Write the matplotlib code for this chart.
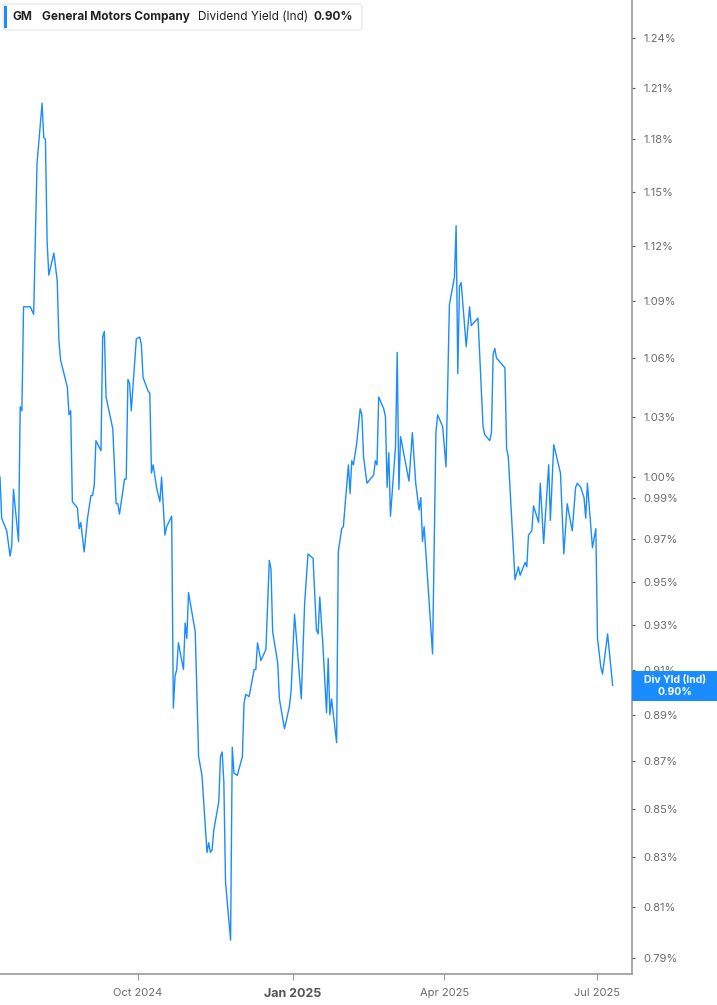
import pandas as pd
import matplotlib
matplotlib.use('Agg')
import matplotlib.pyplot as plt
import matplotlib.dates as mdates
from matplotlib.ticker import FixedLocator, FuncFormatter, NullLocator
from matplotlib.patches import FancyBboxPatch, Rectangle

# GM dividend yield (indicated), in percent
start_date = '2024-07-11'
day_offsets = [
    0, 1, 4, 6, 7, 8, 11, 12, 13, 14, 18, 20, 22, 25, 26, 27, 28, 29, 32, 34,
    35, 36, 40, 41, 42, 43, 46, 47, 48, 50, 52, 54, 55, 56, 57, 60, 61, 62, 63, 67,
    69, 70, 71, 74, 75, 76, 77, 78, 81, 83, 84, 85, 88, 89, 90, 91, 93, 95, 96, 98,
    99, 102, 103, 104, 105, 106, 109, 110, 111, 112, 116, 118, 120, 123, 124, 125, 126, 127, 130, 131,
    132, 133, 134, 137, 138, 139, 141, 144, 145, 146, 148, 151, 152, 153, 155, 158, 160, 161, 162, 165,
    166, 169, 170, 172, 173, 175, 179, 181, 183, 186, 188, 189, 190, 192, 194, 195, 196, 197, 200, 201,
    203, 204, 207, 208, 209, 210, 212, 214, 215, 216, 218, 222, 223, 224, 225, 228, 229, 230, 231, 232,
    235, 236, 237, 238, 243, 245, 247, 249, 250, 251, 252, 257, 259, 260, 263, 265, 267, 270, 271, 272,
    273, 274, 277, 279, 280, 284, 287, 288, 291, 292, 293, 294, 295, 298, 300, 301, 302, 306, 307, 308,
    309, 312, 313, 314, 316, 317, 320, 321, 323, 326, 327, 329, 333, 335, 337, 340, 342, 343, 345, 347,
    348, 349, 352, 354, 355, 357, 358, 361, 364,
]
yields = [
    1.000, 0.980, 0.974, 0.962, 0.967, 0.994, 0.969, 1.035, 1.033, 1.087, 1.087, 1.083, 1.166, 1.201, 1.181, 1.180, 1.122, 1.104, 1.116, 1.101,
    1.069, 1.059, 1.045, 1.031, 1.033, 0.988, 0.985, 0.975, 0.978, 0.964, 0.980, 0.991, 0.991, 0.996, 1.018, 1.013, 1.071, 1.074, 1.040, 1.024,
    0.987, 0.987, 0.982, 0.999, 0.999, 1.049, 1.047, 1.033, 1.070, 1.071, 1.067, 1.050, 1.043, 1.042, 1.002, 1.006, 0.995, 0.988, 1.000, 0.972,
    0.976, 0.981, 0.893, 0.907, 0.910, 0.922, 0.910, 0.931, 0.924, 0.945, 0.927, 0.872, 0.864, 0.832, 0.836, 0.832, 0.833, 0.841, 0.853, 0.872,
    0.874, 0.861, 0.820, 0.797, 0.876, 0.865, 0.864, 0.872, 0.895, 0.899, 0.898, 0.910, 0.910, 0.922, 0.914, 0.919, 0.960, 0.956, 0.927, 0.913,
    0.897, 0.884, 0.887, 0.894, 0.901, 0.935, 0.897, 0.940, 0.963, 0.961, 0.928, 0.926, 0.943, 0.919, 0.891, 0.915, 0.890, 0.897, 0.878, 0.964,
    0.975, 0.976, 1.006, 0.992, 1.008, 1.006, 1.017, 1.034, 1.031, 1.010, 0.997, 1.001, 1.008, 1.006, 1.040, 1.034, 1.030, 0.995, 1.012, 0.981,
    1.015, 1.063, 0.994, 1.020, 0.998, 1.022, 0.997, 0.984, 0.990, 0.969, 0.976, 0.917, 1.022, 1.031, 1.025, 1.005, 1.088, 1.103, 1.131, 1.052,
    1.098, 1.100, 1.066, 1.087, 1.077, 1.081, 1.025, 1.021, 1.018, 1.022, 1.062, 1.065, 1.060, 1.057, 1.055, 1.014, 1.010, 0.951, 0.954, 0.957,
    0.953, 0.959, 0.957, 0.972, 0.974, 0.986, 0.978, 0.997, 0.968, 1.006, 0.979, 1.016, 1.002, 0.963, 0.987, 0.974, 0.995, 0.997, 0.995, 0.990,
    0.980, 0.997, 0.966, 0.975, 0.924, 0.911, 0.908, 0.926, 0.903,
]
y_ticks = [0.79, 0.81, 0.83, 0.85, 0.87, 0.89, 0.91, 0.93, 0.95, 0.97, 0.99,
           1.00, 1.03, 1.06, 1.09, 1.12, 1.15, 1.18, 1.21, 1.24]
x_ticks = ['2024-10-01', '2025-01-01', '2025-04-01', '2025-07-01']
x_labels = ['Oct 2024', 'Jan 2025', 'Apr 2025', 'Jul 2025']
last_value = 0.90

plt.rcParams['font.family'] = ['Inter', 'DejaVu Sans']

blue = '#1a8cff'
grey_text = '#6b6b6b'
spine_col = '#9a9a9a'

dates = pd.to_datetime(start_date) + pd.to_timedelta(day_offsets, unit='D')

fig = plt.figure(figsize=(7.17, 10.05), dpi=100)
ax = fig.add_axes([0, 1 - 974 / 1005, 632 / 717, 974 / 1005])

ax.plot(dates, yields, color=blue, lw=1.0)

ax.set_yscale('log')
ax.set_ylim(0.7839, 1.2633)
ax.set_xlim(pd.to_datetime(start_date), pd.to_datetime(start_date) + pd.Timedelta(days=375.5))

ax.yaxis.tick_right()
ax.yaxis.set_major_locator(FixedLocator(y_ticks))
ax.yaxis.set_minor_locator(NullLocator())
ax.yaxis.set_major_formatter(FuncFormatter(lambda v, p: f'{v:.2f}%'))
ax.tick_params(axis='y', which='major', length=2, width=0.8, color='#555555',
               labelsize=8, labelcolor=grey_text, pad=6)

ax.set_xticks(pd.to_datetime(x_ticks))
ax.set_xticklabels(x_labels)
ax.tick_params(axis='x', length=4, width=0.8, color=spine_col,
               labelsize=8, labelcolor=grey_text, pad=6)
for lab in ax.get_xticklabels():
    if lab.get_text().startswith('Jan'):
        lab.set_fontweight('bold')
        lab.set_fontsize(9)
        lab.set_color('#555555')

for side in ['left', 'top']:
    ax.spines[side].set_visible(False)
for side in ['right', 'bottom']:
    ax.spines[side].set_color(spine_col)
    ax.spines[side].set_linewidth(1.2)

# header box
box = FancyBboxPatch((3 / 717, 1 - 30 / 1005), 359 / 717, 26 / 1005,
                     boxstyle='round,pad=0,rounding_size=0.004',
                     transform=fig.transFigure, facecolor='white',
                     edgecolor='#e4e4e4', lw=0.8, zorder=5)
fig.patches.append(box)
fig.patches.append(Rectangle((4 / 717, 1 - 28 / 1005), 3 / 717, 22 / 1005,
                             transform=fig.transFigure, facecolor=blue,
                             edgecolor='none', zorder=6))
ty = 1 - 17 / 1005
fig.text(13 / 717, ty, 'GM', fontsize=8.5, fontweight='bold', color='#222222', va='center', zorder=7)
fig.text(42 / 717, ty, 'General Motors Company', fontsize=8.5, fontweight='bold', color='#222222', va='center', zorder=7)
fig.text(198 / 717, ty, 'Dividend Yield (Ind)', fontsize=8.5, color='#222222', va='center', zorder=7)
fig.text(314 / 717, ty, f'{last_value:.2f}%', fontsize=8.5, fontweight='bold', color='#222222', va='center', zorder=7)

# last value tag on the right axis
fig.patches.append(Rectangle((632 / 717, 1 - 701 / 1005), 85 / 717, 30 / 1005,
                             transform=fig.transFigure, facecolor=blue,
                             edgecolor='none', zorder=6))
fig.text(675 / 717, 1 - 680 / 1005, 'Div Yld (Ind)', fontsize=7.5, fontweight='bold',
         color='white', ha='center', va='center', zorder=7)
fig.text(675 / 717, 1 - 692 / 1005, f'{last_value:.2f}%', fontsize=7.5, fontweight='bold',
         color='white', ha='center', va='center', zorder=7)

fig.savefig('out.png', dpi=100)
